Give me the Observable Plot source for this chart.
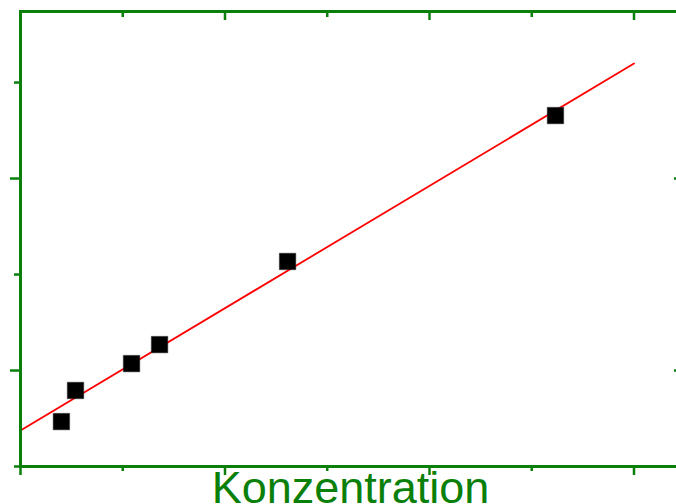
<!DOCTYPE html>
<html>
<head>
<meta charset="utf-8">
<script src="https://cdn.jsdelivr.net/npm/d3@7"></script>
<script src="https://cdn.jsdelivr.net/npm/@observablehq/plot@0.6"></script>
<style>
html, body { margin: 0; padding: 0; overflow: hidden; background: #fff; }
#chart { width: 676px; height: 504px; overflow: hidden; }
#chart svg { display: block; max-width: none !important; width: 684px; height: 504px; }
</style>
</head>
<body>
<div id="chart"></div>
<script>
// Data (arbitrary units)
const concX = [0.20, 0.269, 0.543, 0.680, 1.306, 2.616];
const signalY = [0.734, 0.896, 1.036, 1.135, 1.568, 2.328];
const fitX = [0, 3];
const fitY = [0.6875, 2.599];
const xMajor = [0, 1, 2, 3];
const xMinor = [0.5, 1.5, 2.5];
const yMajor = [1, 2];
const yMinor = [0.5, 1.5, 2.5];
const xLabel = "Konzentration";

const green = "#0a800a";
const points = concX.map((x, i) => ({x, y: signalY[i]}));
const fit = fitX.map((x, i) => ({x, y: fitY[i]}));
const blank = () => "";

const plot = Plot.plot({
  width: 684,
  height: 504,
  marginTop: 11,
  marginLeft: 20,
  marginRight: 4,
  marginBottom: 38,
  x: {domain: [0, 3.2274]},
  y: {domain: [0.5, 2.870]},
  style: {background: "white", overflow: "visible", maxWidth: "none"},
  marks: [
    Plot.line(fit, {x: "x", y: "y", stroke: "#ff0000", strokeWidth: 1.8}),
    Plot.dot(points, {x: "x", y: "y", symbol: "square", r: 9.3, fill: "black", stroke: "#333", strokeWidth: 0.5}),
    // bottom: outward ticks
    Plot.axisX(xMajor, {anchor: "bottom", tickSize: 9, tickFormat: blank, stroke: green, strokeWidth: 2.5, label: null}),
    Plot.axisX(xMinor, {anchor: "bottom", tickSize: 5, tickFormat: blank, stroke: green, strokeWidth: 2.5, label: null}),
    // top: inward ticks
    Plot.axisX(xMajor, {anchor: "bottom", frameAnchor: "top", tickSize: 9, tickFormat: blank, stroke: green, strokeWidth: 2.5, label: null}),
    Plot.axisX(xMinor, {anchor: "bottom", frameAnchor: "top", tickSize: 6, tickFormat: blank, stroke: green, strokeWidth: 2.5, label: null}),
    // left: outward ticks
    Plot.axisY(yMajor, {anchor: "left", tickSize: 10, tickFormat: blank, stroke: green, strokeWidth: 2.5, label: null}),
    Plot.axisY(yMinor, {anchor: "left", tickSize: 6, tickFormat: blank, stroke: green, strokeWidth: 2.5, label: null}),
    // right: inward ticks
    Plot.axisY(yMajor, {anchor: "left", frameAnchor: "right", tickSize: 6, tickFormat: blank, stroke: green, strokeWidth: 2.5, label: null}),
    Plot.axisY(yMinor, {anchor: "left", frameAnchor: "right", tickSize: 3, tickFormat: blank, stroke: green, strokeWidth: 2.5, label: null}),
    Plot.frame({stroke: green, strokeWidth: 3}),
    Plot.text([xLabel], {
      frameAnchor: "bottom", lineAnchor: "bottom", dy: 36, text: d => d,
      fill: green, fontSize: 45, fontFamily: "Liberation Sans, Arial, sans-serif"
    })
  ]
});
document.getElementById("chart").appendChild(plot);
</script>
</body>
</html>
